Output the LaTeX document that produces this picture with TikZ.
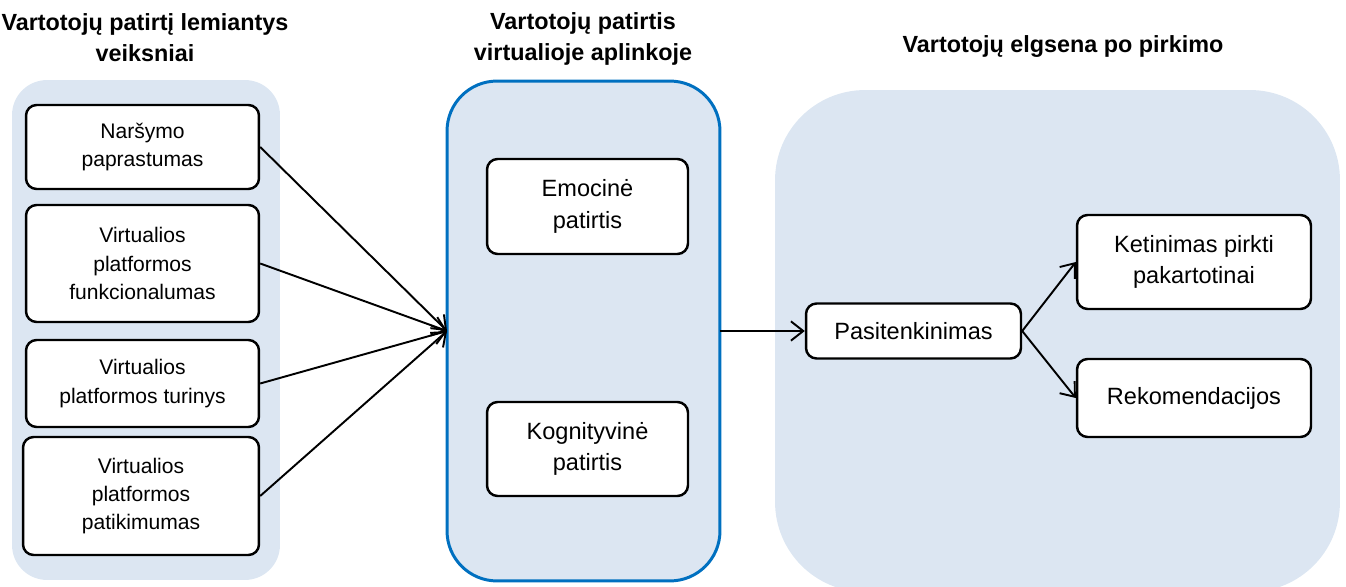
\documentclass[tikz,border=0pt]{standalone}
\usepackage{fontspec}
\setmainfont{Liberation Sans}
\usetikzlibrary{arrows.meta}
\definecolor{panelfill}{HTML}{DCE6F2}
\definecolor{panelblue}{HTML}{0070C0}
\begin{document}
\begin{tikzpicture}[x=0.02cm,y=-0.02cm]

\tikzstyle{panel} = [rectangle, fill=panelfill, inner sep=0pt, outer sep=0pt];
\tikzstyle{box} = [rectangle, draw=black, fill=white, line width=1.4pt, rounded corners=6pt, align=center, inner sep=0pt, font=\fontsize{12}{16}\selectfont];
\tikzstyle{bigbox} = [box, font=\fontsize{13.4}{18}\selectfont];
\tikzstyle{title} = [align=center, inner sep=0pt, font=\bfseries\fontsize{13.3}{17.6}\selectfont];
\tikzstyle{arr} = [-{Straight Barb[length=7pt,width=11pt]}, line width=1.1pt];

\useasboundingbox (0,0) rectangle (1346,587);

% panels
\node[panel, minimum width=5.36cm, minimum height=10cm, rounded corners=0.7cm] at (146,330) (pleft) {};
\node[panel, draw=panelblue, line width=1.7pt, minimum width=5.46cm, minimum height=10cm, rounded corners=1cm] at (583.5,331) (pmid) {};
\node[panel, minimum width=11.3cm, minimum height=10.04cm, rounded corners=1.8cm] at (1057.5,341) (pright) {};

% titles
\node[title] at (145,38) (t1) {Vartotojų patirtį lemiantys\\veiksniai};
\node[title] at (583,39) (t2) {Vartotojų patirtis\\virtualioje aplinkoje};
\node[title] at (1063,47) (t3) {Vartotojų elgsena po pirkimo};

% factors
\node[box, minimum width=4.66cm, minimum height=1.68cm] at (142.5,147) (nav) {Naršymo\\paprastumas};
\node[box, minimum width=4.66cm, minimum height=2.34cm] at (142.5,263.5) (func) {Virtualios\\platformos\\funkcionalumas};
\node[box, minimum width=4.66cm, minimum height=1.74cm] at (142.5,383.5) (tur) {Virtualios\\platformos turinys};
\node[box, minimum width=4.72cm, minimum height=2.36cm] at (141,496) (pat) {Virtualios\\platformos\\patikimumas};

% experience
\node[bigbox, minimum width=4.02cm, minimum height=1.9cm] at (587.5,206.5) (emo) {Emocinė\\patirtis};
\node[bigbox, minimum width=4.02cm, minimum height=1.88cm] at (587.5,449) (kog) {Kognityvinė\\patirtis};

% behaviour
\node[bigbox, minimum width=4.3cm, minimum height=1.1cm] at (913.5,331) (pas) {Pasitenkinimas};
\node[bigbox, minimum width=4.68cm, minimum height=1.88cm] at (1194,262) (ket) {Ketinimas pirkti\\pakartotinai};
\node[bigbox, minimum width=4.68cm, minimum height=1.56cm] at (1194,398) (rek) {Rekomendacijos};

\path (nav.east) edge[arr] (pmid.west);
\path (func.east) edge[arr] (pmid.west);
\path (tur.east) edge[arr] (pmid.west);
\path (pat.east) edge[arr] (pmid.west);

\path (pmid.east) edge[arr] (pas.west);
\path (pas.east) edge[arr] (ket.west);
\path (pas.east) edge[arr] (rek.west);

\end{tikzpicture}
\end{document}
